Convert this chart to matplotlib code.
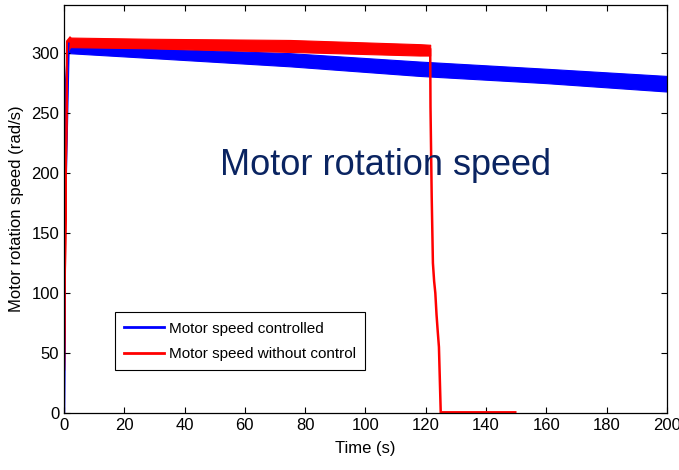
import numpy as np
import matplotlib.pyplot as plt

plt.rcParams['font.family'] = ['Liberation Sans', 'DejaVu Sans']

# vitesse controlee : enveloppe haute / basse de la bande d'oscillation
blue_t = [0, 0.3, 1.5, 28.5, 75, 118, 160, 200]
blue_hi = [0, 265, 308, 304, 300, 293, 287, 281]
blue_lo = [0, 160, 300, 296, 289, 281, 275, 268]

# vitesse sans controle : bande avant la chute
red_t = [0, 1.0, 2, 28.5, 75, 118, 121.5]
red_hi = [36, 310, 313, 312, 311, 307.5, 307]
red_lo = [36, 300, 305, 304, 301, 298, 298]

# chute apres perte de controle
drop_t = [121.5, 121.6, 122.0, 122.4, 122.8, 123.2, 123.6, 124.0, 124.4, 125.0, 150]
drop_v = [303, 255, 180, 125, 110, 100, 82, 68, 55, 0, 0]

xticks = np.arange(0, 201, 20)
yticks = np.arange(0, 301, 50)

fig = plt.figure(figsize=(6.79, 4.70), dpi=100)
ax = fig.add_axes([0.0943, 0.1213, 0.8877, 0.8677])

ax.fill_between(blue_t, blue_lo, blue_hi, color='#0000ff', lw=0.8)
ax.plot(blue_t[:3], blue_hi[:3], color='#0000ff', lw=1.5)
ax.fill_between(red_t, red_lo, red_hi, color='#ff0000', lw=0.8)
ax.plot(red_t[:3], red_hi[:3], color='#ff0000', lw=1.5)
ax.plot(drop_t[:-1], drop_v[:-1], color='#ff0000', lw=1.8)
ax.plot(drop_t[-2:], drop_v[-2:], color='#ff0000', lw=3.5, solid_capstyle='butt')

# poignees pour la legende
l1, = ax.plot([], [], color='#0000ff', lw=2)
l2, = ax.plot([], [], color='#ff0000', lw=2)
leg = ax.legend([l1, l2], ['Motor speed controlled', 'Motor speed without control'],
                loc='lower left', bbox_to_anchor=(0.0846, 0.105), borderaxespad=0,
                fontsize=11, fancybox=False, framealpha=1, edgecolor='black',
                handlelength=2.6, handletextpad=0.35, borderpad=0.6,
                labelspacing=0.75)
leg.get_frame().set_linewidth(0.8)

ax.text(106.8, 206, 'Motor rotation speed', fontsize=26, color='#0a2461',
        ha='center', va='center')

ax.set_xlim(0, 200)
ax.set_ylim(0, 340)
ax.set_xticks(xticks)
ax.set_yticks(yticks)
ax.tick_params(direction='in', top=True, right=True, length=4, labelsize=12)
ax.set_xlabel('Time (s)', fontsize=12, labelpad=6)
ax.set_ylabel('Motor rotation speed (rad/s)', fontsize=12, labelpad=5)
for s in ax.spines.values():
    s.set_linewidth(0.9)

fig.savefig('out.png', dpi=100)
